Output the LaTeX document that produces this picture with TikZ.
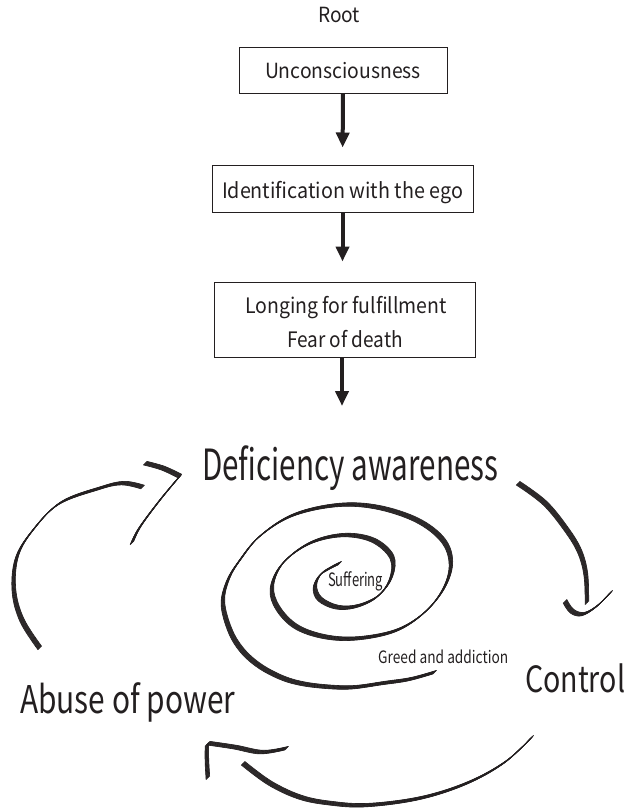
\documentclass[tikz,border=0pt]{standalone}
\usepackage{fontspec}
\setmainfont{Noto Sans CJK KR}
\usepackage{graphicx}
\usetikzlibrary{arrows.meta}
\definecolor{ink}{HTML}{231F20}
\newlength\fitw
\newlength\fitc
\newcommand\fitt[3]{\settowidth\fitw{#3}\settoheight\fitc{H}%
  \pgfmathsetmacro\fitsx{#1/\fitw}\pgfmathsetmacro\fitsy{#2/\fitc}%
  \scalebox{\fitsx}[\fitsy]{#3}}
\newcommand\calli[1]{\foreach \t in {-1.9,-1.6,...,1.9}{\draw[brush,shift={(\t pt,\t pt)}] plot[smooth,tension=0.6] coordinates {#1};}}
\tikzset{
  lbl/.style={anchor=base west, inner sep=0pt, text=ink, font=\fontsize{20}{24}\selectfont},
  lblc/.style={anchor=base, inner sep=0pt, text=ink, font=\fontsize{20}{24}\selectfont},
  box/.style={draw=ink, line width=1pt, inner sep=0pt, text=ink, font=\fontsize{20}{24}\selectfont},
  flow/.style={draw=ink, line width=4pt, -{Triangle[width=13pt,length=15pt]}},
  brush/.style={draw=ink, line width=0.6pt}
}
\begin{document}
\begin{tikzpicture}[x=1pt,y=-1pt]
\path[use as bounding box] (0,0) rectangle (630,808);
% flow chart
\node[lbl] (root) at (318,23) {\fitt{42}{15.3}{Root}};
\node[box, minimum width=208pt, minimum height=45pt, text height=15.6pt, text depth=0pt] (b1) at (343,70.5) {\fitt{156}{15.3}{Unconsciousness}};
\node[box, minimum width=261pt, minimum height=47pt, text height=19.6pt, text depth=0pt] (b2) at (342.5,188.5) {\fitt{241}{15.6}{Identification with the ego}};
\node[box, minimum width=261pt, minimum height=75pt] (b3) at (344.5,319.5) {};
\node[lblc] (l3a) at (346,313.3) {\fitt{202}{15.6}{Longing for fulfillment}};
\node[lblc] (l3b) at (345,347.3) {\fitt{116}{15.6}{Fear of death}};
\coordinate (a3) at (342,406);
\draw[flow, shorten >=17pt] (b1.south) -- (b2.north);
\draw[flow, shorten >=20pt] (b2.south) -- (b2.south |- b3.north);
\draw[flow] (b3.south -| a3) -- (a3);
% cycle labels
\node[lbl] (def) at (202,480) {\fitt{296}{31.5}{Deficiency awareness}};
\node[lbl] (abuse) at (20,713) {\fitt{215}{28}{Abuse of power}};
\node[lbl] (control) at (525,692) {\fitt{100}{26.5}{Control}};
\node[lbl] (greed) at (378,663) {\fitt{130}{12.5}{Greed and addiction}};
\node[lbl] (suff) at (328,586.5) {\fitt{55}{13.5}{Suffering}};
% spiral
\calli{(435,672) (410,679) (383,683) (355,687) (333,687) (305,684) (283,678) (260,666) (242,650) (230,630) (223,603) (228,580) (240,560) (260,536) (293,515) (337,505) (377,507) (417,520) (443,540) (451,563) (444,588) (425,612) (397,630) (360,638) (327,637) (297,627) (278,608) (272,587) (283,563) (310,543) (343,535) (373,540) (392,557) (391,578) (378,596) (357,606) (337,607) (320,599) (315,587) (320,575) (330,568) (340,563)}
% right arrow
\calli{(518,483) (545,503) (567,530) (580,552) (586,575) (587,603)}
\calli{(565,601) (572,611) (583,614) (597,606) (611,592)}
% bottom arrow
\calli{(532,737) (505,762) (467,783) (420,798) (367,805) (330,803) (300,797) (270,783) (243,763)}
\calli{(287,748) (262,752) (235,747) (208,743)}
\calli{(207,744) (207,760) (208,778)}
% left arrow
\calli{(40,648) (22,620) (14,590) (17,557) (33,530) (60,503) (100,488) (123,483) (143,487)}
\calli{(145,463) (163,468) (180,476)}
\calli{(180,476) (160,500) (140,527) (132,543)}
\end{tikzpicture}
\end{document}
